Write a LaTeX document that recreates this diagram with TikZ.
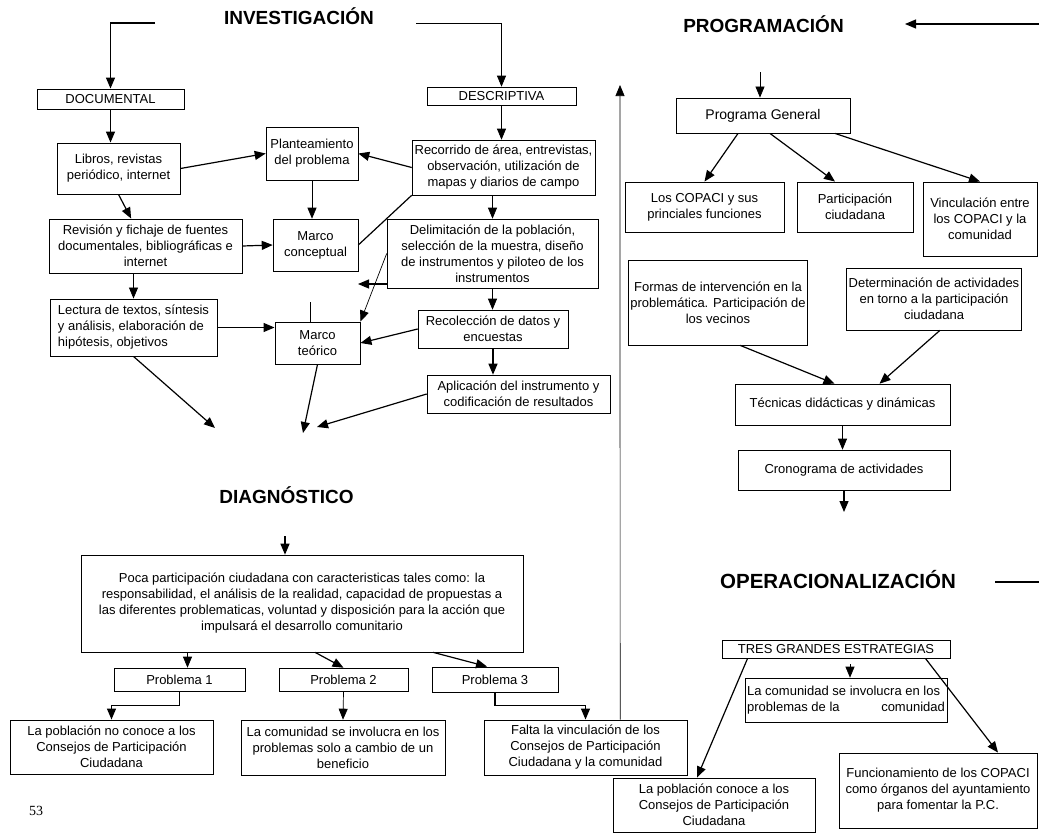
\documentclass[tikz,border=0pt]{standalone}
\usepackage{fontspec}
\setmainfont{Liberation Sans}
\newfontfamily\serifpag{Liberation Serif}
\usetikzlibrary{arrows.meta,calc,positioning}

\begin{document}
\begin{tikzpicture}[x=1pt,y=-1pt,>={Triangle[length=11pt,width=9pt]},line width=1.2pt,align=center,
		caja/.style={draw,rectangle,line width=0.9pt,inner sep=2pt,font=\fontsize{13}{16}\selectfont},
		cajafina/.style={caja,line width=0.6pt},
		fina/.style={line width=0.7pt},
		titulo/.style={anchor=base,font=\fontsize{19}{22}\selectfont\bfseries}]
	\useasboundingbox (0,0) rectangle (1039,833);

	% investigacion
	\node[titulo] (t_inv) at (299,24) {INVESTIGACIÓN};
	\coordinate (c_inv_l) at (155,23);
	\coordinate (c_inv_r) at (416,23);
	\node[caja,minimum width=147,minimum height=20] (inv_doc) at (110.5,99) {DOCUMENTAL};
	\node[cajafina,minimum width=149,minimum height=18] (inv_desc) at (501.5,96) {DESCRIPTIVA};
	\node[caja,minimum width=123,minimum height=51] (inv_lib) at (118.5,168.5) {Libros, revistas\\periódico, internet};
	\node[cajafina,minimum width=92,minimum height=53] (inv_plan) at (312,153.5) {Planteamiento\\del problema};
	\node[cajafina,minimum width=183,minimum height=55] (inv_rec) at (503.5,167.5) {Recorrido de área, entrevistas,\\observación, utilización de\\mapas y diarios de campo};
	\node[caja,minimum width=193,minimum height=54] (inv_rev) at (145.5,246) {Revisión y fichaje de fuentes\\documentales, bibliográficas e\\internet};
	\node[cajafina,minimum width=85,minimum height=52] (inv_mcon) at (315.5,245) {Marco\\conceptual};
	\node[cajafina,minimum width=211,minimum height=69] (inv_del) at (492.5,253.5) {Delimitación de la población,\\selección de la muestra, diseño\\de instrumentos y piloteo de los\\instrumentos};
	\node[caja,align=left,minimum width=167,minimum height=57] (inv_lec) at (133.5,327.5) {Lectura de textos, síntesis\\y análisis, elaboración de\\hipótesis, objetivos};
	\node[caja,minimum width=85,minimum height=42] (inv_mteo) at (317.5,343) {Marco\\teórico};
	\node[cajafina,minimum width=150,minimum height=38] (inv_reco) at (493,329) {Recolección de datos y\\encuestas};
	\node[cajafina,minimum width=183,minimum height=38] (inv_apl) at (518.5,394) {Aplicación del instrumento y\\codificación de resultados};
	\coordinate (c_stub) at (310,302);
	\coordinate (c_del) at (358,284);
	\coordinate (c_d1) at (215,428);
	\coordinate (c_d2) at (303,433);
	\coordinate (c_d3) at (317,427);

	\draw[->] (c_inv_l) -| (inv_doc);
	\draw[->,fina] (c_inv_r) -| (inv_desc);
	\path[->]
		(inv_doc.south) edge (inv_doc.south |- inv_lib.north)
		(inv_desc.south) edge[fina] (inv_desc.south |- inv_rec.north)
		(inv_lib.east) edge (inv_plan.west)
		(inv_rec.west) edge (inv_plan.east)
		(inv_lib.south) edge (inv_rev)
		(inv_plan.south) edge[fina] (inv_plan.south |- inv_mcon.north)
		(inv_rev.east) edge (inv_mcon.west)
		(inv_rec.south west) edge[-] (inv_mcon.east)
		(inv_del.north |- inv_rec.south) edge[fina] (inv_del.north)
		(inv_rev.south -| inv_lec.north) edge[fina] (inv_lec.north)
		(inv_lec.east) edge (inv_lec.east -| inv_mteo.west)
		(c_stub) edge[-,fina] (c_stub |- inv_mteo.north)
		(c_del -| inv_del.west) edge (c_del)
		(inv_del.west) edge[fina] (inv_mteo.north east)
		(inv_reco.west) edge (inv_mteo.east)
		(inv_del.south) edge[fina] (inv_del.south |- inv_reco.north)
		(inv_reco.south) edge (inv_reco.south |- inv_apl.north)
		(inv_lec.south) edge (c_d1)
		(inv_mteo.south) edge (c_d2)
		(inv_apl.west) edge (c_d3);

	% diagnostico
	\node[titulo] (t_diag) at (286.5,503) {DIAGNÓSTICO};
	\coordinate (c_diag) at (285,536);
	\node[cajafina,minimum width=442,minimum height=97] (diag_poca) at (302,603.5) {Poca participación ciudadana con caracteristicas tales como: la\\responsabilidad, el análisis de la realidad, capacidad de propuestas a\\las diferentes problematicas, voluntad y disposición para la acción que\\impulsará el desarrollo comunitario};
	\node[cajafina,minimum width=131,minimum height=23] (diag_p1) at (179.5,679.5) {Problema 1};
	\node[cajafina,minimum width=129,minimum height=23] (diag_p2) at (343.5,679.5) {Problema 2};
	\node[caja,minimum width=126,minimum height=25] (diag_p3) at (495,679.5) {Problema 3};
	\node[caja,minimum width=203,minimum height=54] (diag_r1) at (111.5,747) {La población no conoce a los\\Consejos de Participación\\Ciudadana};
	\node[cajafina,minimum width=204,minimum height=55] (diag_r2) at (343,747.5) {La comunidad se involucra en los\\problemas solo a cambio de un\\beneficio};
	\node[caja,minimum width=203,minimum height=55] (diag_r3) at (585.5,747.5) {Falta la vinculación de los\\Consejos de Participación\\Ciudadana y la comunidad};
	\coordinate (c_p1) at ($(diag_p1.north)+(8,0)$);
	\coordinate (c_up) at (620,85);

	\path[->]
		(c_diag) edge (c_diag |- diag_poca.north)
		(c_p1 |- diag_poca.south) edge[fina] (c_p1)
		($(diag_poca.south)+(13,0)$) edge (diag_p2.north)
		($(diag_poca.south)+(131,0)$) edge ($(diag_p3.north)+(-8,0)$)
		(diag_p2.south) edge[fina] (diag_r2.north);
	\draw[->] (diag_p1.south) -- ++(0,14) -| (diag_r1);
	\draw[->] (diag_p3.south) -- ++(0,13) -| (diag_r3);
	\draw[->,fina] ($(diag_r3.north west)!0.67!(diag_r3.north east)$) -- (c_up);

	% programacion
	\node[titulo] (t_prog) at (763.5,32) {PROGRAMACIÓN};
	\coordinate (c_prog_r) at (1039,24);
	\coordinate (c_prog_in) at (905,24);
	\coordinate (c_prog_top) at (760,72);
	\node[caja,font=\fontsize{14}{16}\selectfont,minimum width=174,minimum height=35] (prog_gen) at (763,115.5) {Programa General};
	\node[caja,minimum width=159,minimum height=50] (prog_cop) at (704.5,207) {Los COPACI y sus\\princiales funciones};
	\node[caja,minimum width=116,minimum height=50] (prog_par) at (855,207) {Participación\\ciudadana};
	\node[caja,minimum width=114,minimum height=74] (prog_vin) at (980,219) {Vinculación entre\\los COPACI y la\\comunidad};
	\node[cajafina,minimum width=172,minimum height=85] (prog_for) at (718,302.5) {Formas de intervención en la\\problemática. Participación de\\los vecinos};
	\node[cajafina,minimum width=172,minimum height=62] (prog_det) at (934,299) {Determinación de actividades\\en torno a la participación\\ciudadana};
	\node[cajafina,minimum width=215,minimum height=41] (prog_tec) at (842.5,404.5) {Técnicas didácticas y dinámicas};
	\node[cajafina,minimum width=212,minimum height=40] (prog_cro) at (844,470) {Cronograma de actividades};
	\coordinate (c_cro) at (844,512);

	\path[->]
		(c_prog_r) edge (c_prog_in)
		(c_prog_top) edge[fina] (c_prog_top |- prog_gen.north)
		($(prog_gen.south)+(-25,0)$) edge (prog_cop.north)
		($(prog_gen.south)+(7,0)$) edge ($(prog_par.north)+(-20,0)$)
		($(prog_gen.south)+(72,0)$) edge (prog_vin.north)
		($(prog_for.south)+(22,0)$) edge ($(prog_tec.north)+(-8,0)$)
		($(prog_det.south)+(6,0)$) edge ($(prog_tec.north)+(37,0)$)
		(prog_tec.south) edge[fina] (prog_tec.south |- prog_cro.north)
		(prog_cro.south) edge (c_cro);

	% operacionalizacion
	\node[titulo,font=\fontsize{20.5}{24}\selectfont\bfseries] (t_oper) at (838,588) {OPERACIONALIZACIÓN};
	\coordinate (c_oper_l) at (995,582);
	\coordinate (c_oper_r) at (1039,582);
	\coordinate (c_com) at (850,664);
	\node[caja,minimum width=228,minimum height=18] (op_tres) at (836,649) {TRES GRANDES ESTRATEGIAS};
	\node[cajafina,align=left,minimum width=202,minimum height=44] (op_com) at (846,700) {La comunidad se involucra en los\\problemas de la\hspace{3.2em}comunidad};
	\node[caja,minimum width=202,minimum height=54] (op_pob) at (714,805) {La población conoce a los\\Consejos de Participación\\Ciudadana};
	\node[caja,minimum width=198,minimum height=75] (op_fun) at (938,790.5) {Funcionamiento de los COPACI\\como órganos del ayuntamiento\\para fomentar la P.C.};

	\path[->]
		(c_oper_l) edge[-] (c_oper_r)
		(c_com) edge[fina] (c_com |- op_com.north)
		($(op_tres.south west)+(26,0)$) edge ($(op_pob.north)+(-17,0)$)
		($(op_tres.south east)+(-25,0)$) edge ($(op_fun.north)+(60,0)$);

	\node[font=\serifpag\fontsize{14}{16}\selectfont] (pag) at (36,811) {53};
\end{tikzpicture}
\end{document}
